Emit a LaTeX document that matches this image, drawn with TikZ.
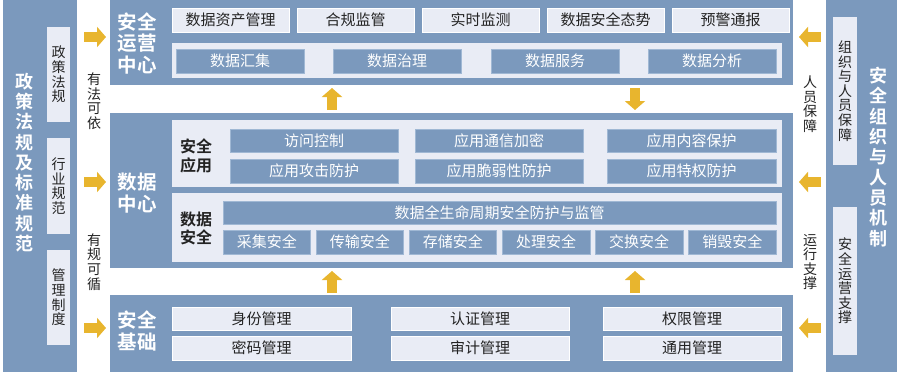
\documentclass[tikz,border=0pt]{standalone}
\usepackage{fontspec}
\setmainfont{Noto Sans CJK SC}[BoldFont={* Bold}]
\usetikzlibrary{arrows.meta}
\definecolor{cb}{RGB}{123,153,189}
\definecolor{cbl}{RGB}{160,184,212}
\definecolor{cl}{RGB}{233,236,245}
\definecolor{ct}{RGB}{35,35,35}
\definecolor{cy}{RGB}{232,181,46}
\newcommand\mybox[7]{%
 \pgfmathsetmacro\bw{#5-#3}\pgfmathsetmacro\bh{#6-#4}%
 \pgfmathsetmacro\bcx{(#3+#5)/2}\pgfmathsetmacro\bcy{(#4+#6)/2}%
 \node[#1, minimum width=\bw pt, minimum height=\bh pt] (#2) at (\bcx,\bcy) {#7};}
\tikzset{
 every node/.style={inner sep=0pt, outer sep=0pt},
 bpanel/.style={fill=cb, draw=none},
 lpanel/.style={fill=cl, draw=none},
 lbox/.style={fill=cl, draw=white, line width=0.6pt, text=ct, font=\fontsize{15}{16}\selectfont},
 bbox/.style={fill=cb, draw=cbl, line width=0.6pt, text=white, font=\fontsize{15}{16}\selectfont},
 ttl/.style={text=white, align=center, font=\fontsize{19.5}{21.5}\selectfont\bfseries},
 bigv/.style={text=white, align=center, font=\fontsize{18}{20.3}\selectfont\bfseries},
 lab/.style={text=ct, align=center, font=\fontsize{16}{18.5}\selectfont\bfseries},
 vt/.style={text=ct, align=center, font=\fontsize{14}{14.6}\selectfont},
 yarrow/.style={draw=cy, line width=10pt, -{Triangle[length=9pt,width=20pt]}},
}
\begin{document}
\begin{tikzpicture}[x=1pt,y=-1pt]
\useasboundingbox (0,0) rectangle (900,372);
% side panels
\mybox{bpanel}{lp}{3}{0}{77}{372}{}
\mybox{bpanel}{rp}{826}{0}{897}{372}{}
\node[bigv] (lpt) at (24,162.5) {政\\策\\法\\规\\及\\标\\准\\规\\范};
\node[bigv] (rpt) at (878,157) {安\\全\\组\\织\\与\\人\\员\\机\\制};
\mybox{lpanel,vt}{l1}{47}{27}{70}{122}{政\\策\\法\\规}
\mybox{lpanel,vt}{l2}{47}{138}{70}{234}{行\\业\\规\\范}
\mybox{lpanel,vt}{l3}{47}{250}{70}{345}{管\\理\\制\\度}
\mybox{lpanel,vt}{r1}{833}{17}{857}{165}{组\\织\\与\\人\\员\\保\\障}
\mybox{lpanel,vt}{r2}{833}{207}{857}{355}{安\\全\\运\\营\\支\\撑}
\node[vt] (tl1) at (94,101) {有\\法\\可\\依};
\node[vt] (tl2) at (94,262) {有\\规\\可\\循};
\node[vt] (tr1) at (810,104) {人\\员\\保\\障};
\node[vt] (tr2) at (810,262) {运\\行\\支\\撑};
% central panels
\mybox{bpanel}{ops}{110}{0}{793}{85}{}
\mybox{bpanel}{dc}{110}{113}{793}{268}{}
\mybox{bpanel}{fd}{110}{295}{793}{372}{}
\node[ttl] (opst) at (137,43) {安全\\运营\\中心};
\node[ttl] (dct) at (137,193) {数据\\中心};
\node[ttl] (fdt) at (137,331) {安全\\基础};
% ops row 1
\mybox{lbox}{o1}{172}{8}{289}{32}{数据资产管理}
\mybox{lbox}{o2}{297}{8}{414}{32}{合规监管}
\mybox{lbox}{o3}{422}{8}{539}{32}{实时监测}
\mybox{lbox}{o4}{547}{8}{664}{32}{数据安全态势}
\mybox{lbox}{o5}{672}{8}{789}{32}{预警通报}
% ops row 2
\mybox{lpanel}{opp}{172}{43}{782}{78}{}
\mybox{bbox}{p1}{176}{49}{304}{73}{数据汇集}
\mybox{bbox}{p2}{333}{49}{461}{73}{数据治理}
\mybox{bbox}{p3}{491}{49}{619}{73}{数据服务}
\mybox{bbox}{p4}{648}{49}{776}{73}{数据分析}
% security application
\mybox{lpanel}{sap}{172}{120}{782}{187}{}
\node[lab] (sapt) at (196,156) {安全\\应用};
\mybox{bbox}{a1}{230}{129}{398}{152}{访问控制}
\mybox{bbox}{a2}{415}{129}{583}{152}{应用通信加密}
\mybox{bbox}{a3}{607}{129}{776}{152}{应用内容保护}
\mybox{bbox}{a4}{230}{159}{398}{183}{应用攻击防护}
\mybox{bbox}{a5}{415}{159}{583}{183}{应用脆弱性防护}
\mybox{bbox}{a6}{607}{159}{776}{183}{应用特权防护}
% data security
\mybox{lpanel}{dsp}{172}{193}{782}{262}{}
\node[lab] (dspt) at (196,228.5) {数据\\安全};
\mybox{bbox}{d0}{223}{201}{776}{224}{数据全生命周期安全防护与监管}
\mybox{bbox}{d1}{223}{230}{310.5}{254}{采集安全}
\mybox{bbox}{d2}{316.1}{230}{403.6}{254}{传输安全}
\mybox{bbox}{d3}{409.2}{230}{496.7}{254}{存储安全}
\mybox{bbox}{d4}{502.3}{230}{589.8}{254}{处理安全}
\mybox{bbox}{d5}{595.4}{230}{682.9}{254}{交换安全}
\mybox{bbox}{d6}{688.5}{230}{776}{254}{销毁安全}
% foundation
\mybox{lbox}{f1}{172}{307}{351}{330}{身份管理}
\mybox{lbox}{f2}{391}{307}{569}{330}{认证管理}
\mybox{lbox}{f3}{603}{307}{781}{330}{权限管理}
\mybox{lbox}{f4}{172}{336}{351}{360}{密码管理}
\mybox{lbox}{f5}{391}{336}{569}{360}{审计管理}
\mybox{lbox}{f6}{603}{336}{781}{360}{通用管理}
% arrows
\coordinate (ra1) at (84,37); \coordinate (rb1) at (106,37);
\coordinate (ra2) at (84,182); \coordinate (rb2) at (106,182);
\coordinate (ra3) at (84,328); \coordinate (rb3) at (106,328);
\coordinate (la1) at (821,37); \coordinate (lb1) at (799,37);
\coordinate (la2) at (821,182); \coordinate (lb2) at (799,182);
\coordinate (la3) at (821,328); \coordinate (lb3) at (799,328);
\coordinate (u1a) at (332,110); \coordinate (u1b) at (332,88);
\coordinate (d1a) at (635,88); \coordinate (d1b) at (635,110);
\coordinate (u2a) at (332,293); \coordinate (u2b) at (332,271);
\coordinate (u3a) at (635,293); \coordinate (u3b) at (635,271);
\foreach \s/\e in {ra1/rb1,ra2/rb2,ra3/rb3,la1/lb1,la2/lb2,la3/lb3,u1a/u1b,d1a/d1b,u2a/u2b,u3a/u3b}
 \draw[yarrow] (\s) -- (\e);
\end{tikzpicture}
\end{document}
